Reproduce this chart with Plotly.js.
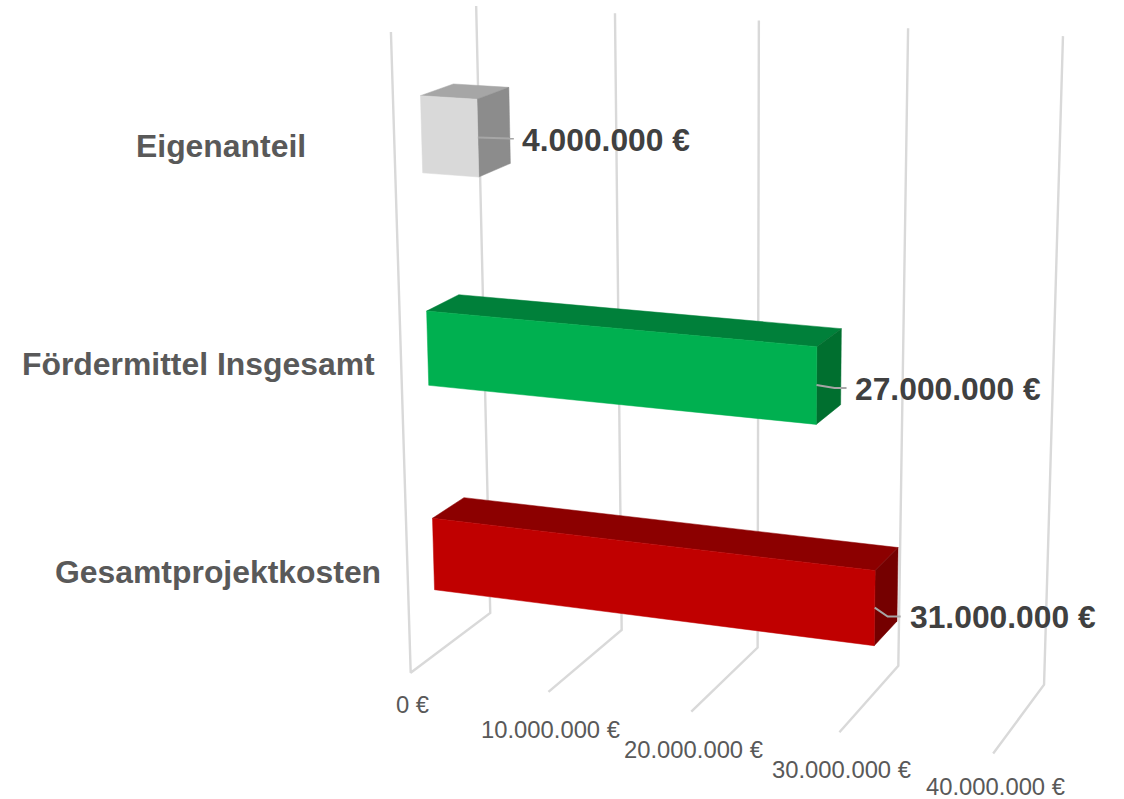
<!DOCTYPE html>
<html>
<head>
<meta charset="utf-8">
<script src="https://cdn.plot.ly/plotly-3.0.1.min.js"></script>
<style>html,body{margin:0;padding:0;background:#fff}#chart{width:1124px;height:799px}</style>
</head>
<body>
<div id="chart"></div>
<script>
// ---------- data ----------
const categories = ["Gesamtprojektkosten", "Fördermittel Insgesamt", "Eigenanteil"];
const values = [31000000, 27000000, 4000000];
const valueLabels = ["31.000.000 €", "27.000.000 €", "4.000.000 €"];
const tickValues = [0, 10000000, 20000000, 30000000, 40000000];
const tickLabels = ["0 €", "10.000.000 €", "20.000.000 €", "30.000.000 €", "40.000.000 €"];

// ---------- styles ----------
const frontColors = ["#c00000", "#00b050", "#d9d9d9"];
const topColors = ["#8c0000", "#00803a", "#a6a6a6"];
const sideColors = ["#750000", "#006f2f", "#8c8c8c"];
const gridColor = "#d9d9d9";
const leaderColor = "#a6a6a6";
const fontFamily = "'Liberation Sans', Arial, sans-serif";

// ---------- label placement (pixel offsets) ----------
const tickLabelDy = [32, 38, 38, 37, 33];
const categoryLabelX = [218, 198, 220.5];
const categoryLabelY = [572, 364, 146];
const leaderBend = [[13, 9], [18, 3], [0, 0]];
const leaderEnd = [[26, 9], [30, 3], [36, 1]];
const valueLabelOffset = [[33.5, 9.5], [36.5, 4], [42, 2]];

// ---------- 3D box geometry (v: value, h: 0..1 up the category axis, d: 0..1 depth) ----------
const barBelowCentre = 0.06;
const barAboveCentre = 0.058;
const barDepthFront = 0.31;
const barDepthBack = 0.70;

// camera calibration: [value in 10M, h, d, screen x, screen y]
const camera = [
  [0,0,0,410,672],[1,0,0,549,692],[2,0,0,692,712],[3,0,0,839,733],[4,0,0,993,753],
  [0,0,1,490,612],[1,0,1,622,630],[2,0,1,758,650],[3,0,1,898,665],[4,0,1,1044,684],
  [0,1,1,476,6],[1,1,1,615,14],[2,1,1,759,20],[3,1,1,908,28],[4,1,1,1063,36],
  [0,1,0,391,32]
];

function solveCamera(pts) {
  const n = 11, A = Array.from({length:n},()=>new Array(n+1).fill(0));
  const add = (r, t) => {
    for (let i=0;i<n;i++){ for(let j=0;j<n;j++) A[i][j]+=r[i]*r[j]; A[i][n]+=r[i]*t; }
  };
  pts.forEach(([v,h,d,x,y])=>{
    const X=x/1000, Y=y/1000;
    add([v,h,d,1,0,0,0,0,-X*v,-X*h,-X*d],X);
    add([0,0,0,0,v,h,d,1,-Y*v,-Y*h,-Y*d],Y);
  });
  for (let c=0;c<n;c++){
    let p=c; for(let r=c+1;r<n;r++) if(Math.abs(A[r][c])>Math.abs(A[p][c])) p=r;
    [A[c],A[p]]=[A[p],A[c]];
    for(let r=0;r<n;r++){ if(r===c) continue; const f=A[r][c]/A[c][c]; for(let k=c;k<=n;k++) A[r][k]-=f*A[c][k]; }
  }
  return A.map((row,i)=>row[n]/row[i]);
}
const M = solveCamera(camera);
function P(value,h,d){
  const v=value/1e7, w=M[8]*v+M[9]*h+M[10]*d+1;
  return [1000*(M[0]*v+M[1]*h+M[2]*d+M[3])/w, 1000*(M[4]*v+M[5]*h+M[6]*d+M[7])/w];
}

const traces = [];
const annotations = [];
function path(pts, color, width, fill){
  const t = {type:"scatter", mode:"lines", x:pts.map(p=>p[0]), y:pts.map(p=>p[1]),
    line:{color:color,width:width,simplify:false}, hoverinfo:"skip", showlegend:false};
  if (fill){ t.fill="toself"; t.fillcolor=fill; }
  traces.push(t);
}
function label(xy, text, size, color, bold, anchor){
  annotations.push({xref:"x",yref:"y",x:xy[0],y:xy[1],text:bold?"<b>"+text+"</b>":text,showarrow:false,
    xanchor:anchor,yanchor:"middle",font:{family:fontFamily,size:size,color:color}});
}

// gridlines and value-axis labels
tickValues.forEach((v,i)=>{
  const pts=[P(v,0,0),P(v,0,1),P(v,1,1)];
  if(i===0) pts.unshift(P(v,1,0));
  path(pts,gridColor,2.4);
  const tip=P(v,0,0);
  label([tip[0]+2,tip[1]+tickLabelDy[i]],tickLabels[i],23.8,"#595959",false,"center");
});

// bars
values.forEach((v,i)=>{
  const hc=(i+0.5)/categories.length, h0=hc-barBelowCentre, h1=hc+barAboveCentre;
  const f=barDepthFront, b=barDepthBack;
  const close=a=>a.concat([a[0]]);
  path(close([P(0,h1,f),P(0,h1,b),P(v,h1,b),P(v,h1,f)]),topColors[i],0.5,topColors[i]);
  path(close([P(v,h0,f),P(v,h1,f),P(v,h1,b),P(v,h0,b)]),sideColors[i],0.5,sideColors[i]);
  path(close([P(0,h0,f),P(0,h1,f),P(v,h1,f),P(v,h0,f)]),frontColors[i],0.5,frontColors[i]);
  const s=P(v,hc,f);
  const leader=[s];
  if(leaderBend[i][0]) leader.push([s[0]+leaderBend[i][0],s[1]+leaderBend[i][1]]);
  leader.push([s[0]+leaderEnd[i][0],s[1]+leaderEnd[i][1]]);
  path(leader,leaderColor,2);
  label([s[0]+valueLabelOffset[i][0],s[1]+valueLabelOffset[i][1]],valueLabels[i],31.8,"#404040",true,"left");
  label([categoryLabelX[i],categoryLabelY[i]],categories[i],31.9,"#595959",true,"center");
});

const layout = {
  width:1124,height:799,margin:{l:0,r:0,t:0,b:0},
  paper_bgcolor:"#ffffff",plot_bgcolor:"#ffffff",showlegend:false,hovermode:false,
  xaxis:{range:[0,1124],visible:false,fixedrange:true},
  yaxis:{range:[799,0],visible:false,fixedrange:true},
  annotations:annotations
};
Plotly.newPlot("chart",traces,layout,{displayModeBar:false,staticPlot:true});
</script>
</body>
</html>
